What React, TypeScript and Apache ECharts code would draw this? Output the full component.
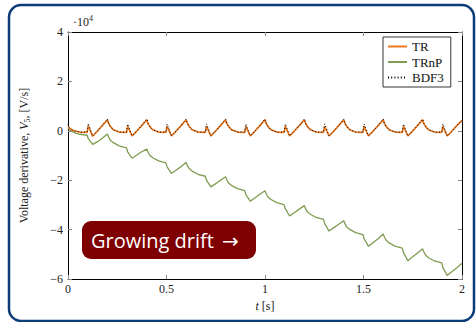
import React, { useEffect, useRef } from "react";
import * as echarts from "echarts";

// Time grid: each 0.2 s period is sampled at the offsets below
const PERIOD_STARTS = [0, 0.2, 0.4, 0.6, 0.8, 1.0, 1.2, 1.4, 1.6, 1.8];
const OFFSETS = [0, 0.006, 0.015, 0.03, 0.06, 0.097, 0.103, 0.125, 0.148, 0.174];
const END_T = 2.0;

// Values in units of 1e4 V/s, one row per period
const TR_PERIODS = [
  [0.16, 0.12, 0.06, 0.0, -0.05, -0.06, 0.2, -0.22, -0.02, 0.21],
  [0.45, 0.3, 0.18, 0.04, -0.05, -0.06, 0.18, -0.21, -0.02, 0.21],
  [0.45, 0.3, 0.18, 0.04, -0.05, -0.06, 0.18, -0.21, -0.02, 0.21],
  [0.45, 0.3, 0.18, 0.04, -0.05, -0.06, 0.18, -0.21, -0.02, 0.21],
  [0.45, 0.3, 0.18, 0.04, -0.05, -0.06, 0.18, -0.21, -0.02, 0.21],
  [0.45, 0.3, 0.18, 0.04, -0.05, -0.06, 0.18, -0.21, -0.02, 0.21],
  [0.45, 0.3, 0.18, 0.04, -0.05, -0.06, 0.18, -0.21, -0.02, 0.21],
  [0.45, 0.3, 0.18, 0.04, -0.05, -0.06, 0.18, -0.21, -0.02, 0.21],
  [0.45, 0.3, 0.18, 0.04, -0.05, -0.06, 0.18, -0.21, -0.02, 0.21],
  [0.45, 0.3, 0.18, 0.04, -0.05, -0.06, 0.18, -0.21, -0.02, 0.21],
];
const TR_END = 0.42;

const TRNP_PERIODS = [
  [0.1, 0.06, 0.0, -0.07, -0.14, -0.18, -0.32, -0.55, -0.45, -0.3],
  [-0.13, -0.25, -0.38, -0.48, -0.61, -0.69, -0.85, -1.11, -0.99, -0.85],
  [-0.74, -0.86, -0.99, -1.09, -1.22, -1.3, -1.46, -1.72, -1.6, -1.45],
  [-1.28, -1.4, -1.53, -1.63, -1.76, -1.84, -2.0, -2.27, -2.15, -2.0],
  [-1.86, -1.98, -2.11, -2.21, -2.34, -2.42, -2.58, -2.85, -2.72, -2.57],
  [-2.43, -2.55, -2.68, -2.78, -2.91, -2.99, -3.15, -3.45, -3.32, -3.17],
  [-3.03, -3.15, -3.28, -3.38, -3.51, -3.59, -3.76, -4.06, -3.93, -3.78],
  [-3.64, -3.76, -3.89, -3.99, -4.12, -4.2, -4.37, -4.67, -4.53, -4.37],
  [-4.18, -4.3, -4.43, -4.54, -4.67, -4.75, -4.93, -5.26, -5.11, -4.95],
  [-4.78, -4.9, -5.03, -5.14, -5.27, -5.35, -5.54, -5.86, -5.71, -5.54],
];
const TRNP_END = -5.36;

const BDF3_PERIODS = [
  [0.25, 0.14, 0.06, 0.0, -0.05, -0.05, 0.3, -0.21, -0.02, 0.21],
  [0.48, 0.3, 0.17, 0.04, -0.05, -0.05, 0.28, -0.2, -0.02, 0.21],
  [0.48, 0.3, 0.17, 0.04, -0.05, -0.05, 0.28, -0.2, -0.02, 0.21],
  [0.48, 0.3, 0.17, 0.04, -0.05, -0.05, 0.28, -0.2, -0.02, 0.21],
  [0.48, 0.3, 0.17, 0.04, -0.05, -0.05, 0.28, -0.2, -0.02, 0.21],
  [0.48, 0.3, 0.17, 0.04, -0.05, -0.05, 0.28, -0.2, -0.02, 0.21],
  [0.48, 0.3, 0.17, 0.04, -0.05, -0.05, 0.28, -0.2, -0.02, 0.21],
  [0.48, 0.3, 0.17, 0.04, -0.05, -0.05, 0.28, -0.2, -0.02, 0.21],
  [0.48, 0.3, 0.17, 0.04, -0.05, -0.05, 0.28, -0.2, -0.02, 0.21],
  [0.48, 0.3, 0.17, 0.04, -0.05, -0.05, 0.28, -0.2, -0.02, 0.21],
];
const BDF3_END = 0.44;

const SERIES_NAMES = ["TR", "TRnP", "BDF3"];
const X_TICKS = { min: 0, max: 2, interval: 0.5 };
const Y_TICKS = { min: -6, max: 4, interval: 2 };
const SCALE_LABEL = "·10";
const SCALE_EXP = "4";
const CALLOUT_TEXT = "Growing drift";
const CALLOUT_ARROW = "→";

function buildData(periods: number[][], end: number) {
  const out: [number, number][] = [];
  PERIOD_STARTS.forEach((t0, k) => {
    OFFSETS.forEach((o, i) => {
      out.push([Number((t0 + o).toFixed(3)), periods[k][i]]);
    });
  });
  out.push([END_T, end]);
  return out;
}

const SERIF = "Liberation Serif";

export default function App() {
  const ref = useRef<HTMLDivElement>(null);
  useEffect(() => {
    if (!ref.current) return;
    const chart = echarts.init(ref.current, null, { renderer: "svg" });
    const axisCommon = {
      axisLine: { onZero: false, lineStyle: { color: "#000", width: 1 } },
      axisTick: { inside: true, length: 4, lineStyle: { color: "#888" } },
      splitLine: { show: false },
    };
    const labelStyle = { fontFamily: SERIF, fontSize: 12, color: "#222" };
    chart.setOption({
      animation: false,
      backgroundColor: "#fff",
      grid: { left: 68, right: 14, top: 32, bottom: 43 },
      xAxis: [
        {
          type: "value",
          ...X_TICKS,
          ...axisCommon,
          axisLabel: { ...labelStyle, margin: 4 },
          name: "{i|t} [s]",
          nameLocation: "middle",
          nameGap: 21,
          nameTextStyle: {
            ...labelStyle,
            rich: { i: { fontFamily: SERIF, fontSize: 12, fontStyle: "italic", color: "#222" } },
          },
        },
        {
          type: "value",
          position: "top",
          ...X_TICKS,
          ...axisCommon,
          axisLabel: { show: false },
        },
      ],
      yAxis: [
        {
          type: "value",
          ...Y_TICKS,
          ...axisCommon,
          axisLabel: {
            ...labelStyle,
            margin: 5,
            formatter: (v: number) => (v < 0 ? "\u2212" + Math.abs(v) : String(v)),
          },
          name: "Voltage derivative, {i|V}{s|5}, [V/s]",
          nameLocation: "middle",
          nameGap: 37,
          nameRotate: 90,
          nameTextStyle: {
            ...labelStyle,
            lineHeight: 14,
            rich: {
              i: { fontFamily: SERIF, fontSize: 12, fontStyle: "italic", color: "#222", lineHeight: 14 },
              s: { fontFamily: SERIF, fontSize: 8, color: "#222", verticalAlign: "bottom", lineHeight: 9 },
            },
          },
        },
        {
          type: "value",
          position: "right",
          ...Y_TICKS,
          ...axisCommon,
          axisLabel: { show: false },
        },
      ],
      legend: {
        left: 383,
        top: 37,
        orient: "vertical",
        backgroundColor: "#fff",
        borderColor: "#000",
        borderWidth: 0.8,
        borderRadius: 0,
        padding: [3, 7, 3, 4],
        itemWidth: 19,
        itemHeight: 12,
        itemGap: 2.5,
        itemStyle: { opacity: 0 },
        textStyle: { fontFamily: SERIF, fontSize: 13, color: "#111", lineHeight: 12 },
        data: SERIES_NAMES,
      },
      series: [
        {
          name: SERIES_NAMES[0],
          type: "line",
          symbol: "none",
          data: buildData(TR_PERIODS, TR_END),
          lineStyle: { color: "#ec7820", width: 1.7 },
          itemStyle: { color: "#ec7820" },
          z: 3,
        },
        {
          name: SERIES_NAMES[1],
          type: "line",
          symbol: "none",
          data: buildData(TRNP_PERIODS, TRNP_END),
          lineStyle: { color: "#7f9c50", width: 1.3 },
          itemStyle: { color: "#7f9c50" },
          z: 2,
        },
        {
          name: SERIES_NAMES[2],
          type: "line",
          symbol: "none",
          data: buildData(BDF3_PERIODS, BDF3_END),
          lineStyle: { color: "#000", width: 1, type: [1, 2.2] },
          itemStyle: { color: "#000" },
          z: 4,
        },
      ],
      graphic: [
        {
          type: "rect",
          shape: { x: 9, y: 5, width: 465, height: 316, r: 12 },
          style: { fill: "none", stroke: "#0c3c78", lineWidth: 2.5 },
          z: 10,
          silent: true,
        },
        {
          type: "text",
          x: 73,
          y: 22,
          style: { text: SCALE_LABEL, fontFamily: SERIF, fontSize: 12, fill: "#222", verticalAlign: "middle" },
        },
        {
          type: "text",
          x: 89,
          y: 18,
          style: { text: SCALE_EXP, fontFamily: SERIF, fontSize: 8, fill: "#222", verticalAlign: "middle" },
        },
        {
          type: "group",
          z: 20,
          children: [
            {
              type: "rect",
              shape: { x: 82, y: 221, width: 174, height: 38, r: 9 },
              style: { fill: "#7f0000" },
            },
            {
              type: "text",
              x: 91,
              y: 240,
              style: {
                text: CALLOUT_TEXT,
                fontFamily: "Open Sans",
                fontSize: 20,
                fill: "#fff",
                align: "left",
                verticalAlign: "middle",
              },
            },
            {
              type: "text",
              x: 222,
              y: 241,
              style: {
                text: CALLOUT_ARROW,
                fontFamily: "DejaVu Sans",
                fontSize: 20,
                fill: "#fff",
                align: "left",
                verticalAlign: "middle",
              },
            },
          ],
        },
      ],
    });
    return () => chart.dispose();
  }, []);
  return (
    <div
      ref={ref}
      style={{ position: "absolute", left: 0, top: 0, width: 476, height: 322 }}
    />
  );
}
